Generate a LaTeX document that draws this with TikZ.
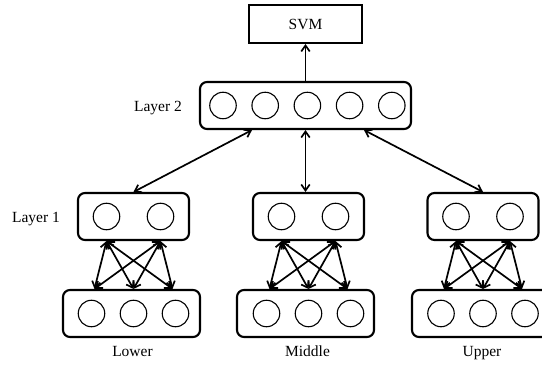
\documentclass[tikz,border=0pt]{standalone}
\usepackage{fontspec}
\setmainfont{Liberation Serif}
\usetikzlibrary{arrows.meta}
\begin{document}
\begin{tikzpicture}[x=1pt,y=-1pt,
  layerbox/.style={draw, line width=2.1pt, rounded corners=7pt, minimum height=47pt, inner sep=0pt},
  unit/.style={circle, draw, line width=1.1pt, minimum size=26.5pt, inner sep=0pt},
  lbl/.style={font=\fontsize{15.5}{18}\selectfont, inner sep=0pt},
  tip/.tip={Straight Barb[length=6pt,width=8.5pt,line width=1.7pt]},
  link/.style={line width=1.7pt, tip-tip},
  feed/.style={line width=1.7pt, -tip}]
\useasboundingbox (0,0) rectangle (542,366);

% classifier and top layer
\node[draw, line width=2pt, minimum width=113pt, minimum height=38pt, lbl] (svm) at (305.5,24) {SVM};
\node[layerbox, minimum width=211pt] (l2) at (305.5,105.5) {};
\foreach \i in {1,...,5}
  \node[unit] (c\i) at ({223+42.2*(\i-1)},105.5) {};
\node[lbl, anchor=base] (l2lab) at (158,112) {Layer 2};
\node[lbl, anchor=base] (l1lab) at (36,223) {Layer 1};

\draw[feed] (l2.north) -- (svm.south);

% three sub-networks
\foreach \g/\cx/\bx/\name in {lo/133.5/131.5/Lower, mi/308.5/305.5/Middle, up/483/480.5/Upper}{
  \node[layerbox, minimum width=111pt] (\g a) at (\cx,216.5) {};
  \node[unit] (\g a1) at (\cx-27,216.5) {};
  \node[unit] (\g a2) at (\cx+27,216.5) {};
  \node[layerbox, minimum width=137pt] (\g b) at (\bx,313.5) {};
  \node[unit] (\g b1) at (\cx-42,313.5) {};
  \node[unit] (\g b2) at (\cx,313.5) {};
  \node[unit] (\g b3) at (\cx+42,313.5) {};
  \node[lbl, anchor=base] (\g lab) at (\cx-1,357) {\name};
  \foreach \t in {1,2}
    \foreach \b in {1,2,3}
      \draw[link] (\g a.south -| \g a\t) -- ([xshift={(2-\b)*3pt}]\g b.north -| \g b\b);
}

% links between the sub-networks and the top layer
\draw[link] ([xshift=-53.5pt]l2.south) -- (loa.north);
\draw[link] (l2.south) -- (l2.south |- mia.north);
\draw[link] ([xshift=58.5pt]l2.south) -- (upa.north);
\end{tikzpicture}
\end{document}
